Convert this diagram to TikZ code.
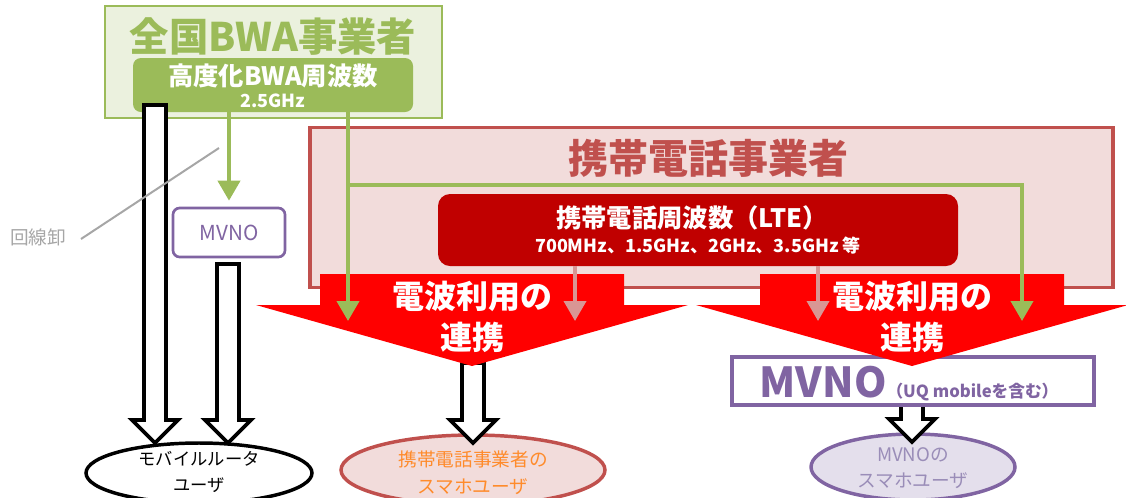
\documentclass[tikz,border=0pt]{standalone}
\usepackage{fontspec}
\setmainfont{Noto Sans CJK JP}
\usetikzlibrary{arrows.meta,shapes.geometric}
\definecolor{bwagreen}{HTML}{9BBB59}
\definecolor{bwafill}{HTML}{EBF1DE}
\definecolor{telred}{HTML}{C0504D}
\definecolor{telfill}{HTML}{F2DCDB}
\definecolor{ltered}{HTML}{C00000}
\definecolor{pinkarr}{HTML}{D99694}
\definecolor{mvnopurple}{HTML}{8064A2}
\definecolor{mvnofill}{HTML}{E4DFEC}
\definecolor{usrorange}{HTML}{FF8B2B}
\definecolor{usrpurple}{HTML}{9A8DB8}
\definecolor{arrred}{HTML}{FF0000}
\definecolor{linegray}{HTML}{A6A6A6}
\newcommand{\hollowarrow}[3]{%
  \draw[hollowline] (#1-11,#2) -- (#1+11,#2) -- (#1+11,#3-23) -- (#1+23,#3-23) -- (#1,#3) -- (#1-23,#3-23) -- (#1-11,#3-23) -- cycle;}
\newcommand{\redchevron}[1]{%
  \fill[arrred] (#1-152,274) -- (#1+152,274) -- (#1+152,305) -- (#1+216,305) -- (#1,366) -- (#1-216,305) -- (#1-152,305) -- cycle;}
\begin{document}
\begin{tikzpicture}[x=0.75pt,y=-0.75pt,
  hollowline/.style={draw=black,fill=white,line width=2.8pt,line join=miter},
  greenarr/.style={draw=bwagreen,line width=3pt,-{Triangle[width=16.5pt,length=15pt]}},
  pinkarrow/.style={draw=pinkarr,line width=2.8pt,-{Triangle[width=16.5pt,length=15pt]}},
  txt/.style={inner sep=0pt,align=center},
  userell/.style={ellipse,inner sep=0pt,line width=2.6pt}]
\useasboundingbox (0,0) rectangle (1126,497);
% BWA operator
\node[draw=bwagreen,fill=bwafill,line width=2pt,minimum width=252.75pt,minimum height=84pt,inner sep=0pt] (bwa) at (273.5,62) {};
\node[txt,text=bwagreen,font=\fontsize{29.5}{32}\selectfont\bfseries] (bwatitle) at (273,37) {全国BWA事業者};
\node[fill=bwagreen,rounded corners=6pt,minimum width=210pt,minimum height=40.5pt,inner sep=0pt] (bwain) at (273,85) {};
\node[txt,text=white,font=\fontsize{19}{21}\selectfont\bfseries] (bwafreq) at (273,76) {高度化BWA周波数};
\node[txt,text=white,font=\fontsize{13.5}{15}\selectfont\bfseries] (bwaghz) at (273,101) {2.5GHz};
% mobile operator
\node[draw=telred,fill=telfill,line width=2.4pt,minimum width=602.25pt,minimum height=120pt,inner sep=0pt] (tel) at (711.5,207.5) {};
\node[txt,text=telred,font=\fontsize{30}{32}\selectfont\bfseries] (teltitle) at (708,158) {携帯電話事業者};
\node[fill=ltered,rounded corners=9pt,minimum width=390pt,minimum height=54pt,inner sep=0pt] (lte) at (698,230) {};
\node[txt,text=white,font=\fontsize{19}{21}\selectfont\bfseries] (ltetitle) at (692,218) {携帯電話周波数（LTE）};
\node[txt,text=white,font=\fontsize{13.5}{15}\selectfont\bfseries] (ltefreq) at (698,246) {700MHz、1.5GHz、2GHz、3.5GHz 等};
% small MVNO
\node[draw=mvnopurple,fill=white,line width=2pt,rounded corners=5pt,minimum width=84pt,minimum height=36.75pt,inner sep=0pt,text=mvnopurple,font=\fontsize{15.5}{16}\selectfont] (mvnos) at (229,232.5) {MVNO};
% user ellipses
\node[userell,draw=black,fill=white,minimum width=169.5pt,minimum height=45pt] (router) at (199,473) {};
\node[txt,font=\fontsize{13}{19}\selectfont] (routertxt) at (199,472) {モバイルルータ\\ユーザ};
\node[userell,draw=telred,fill=telfill,minimum width=198pt,minimum height=52.5pt] (phone) at (473,470) {};
\node[txt,text=usrorange,font=\fontsize{14}{20}\selectfont] (phonetxt) at (473,473) {携帯電話事業者の\\スマホユーザ};
\node[userell,draw=mvnopurple,fill=mvnofill,minimum width=153pt,minimum height=49.5pt] (mvnouser) at (913,467) {};
\node[txt,text=usrpurple,font=\fontsize{14}{20}\selectfont] (mvnousertxt) at (913,468) {MVNOの\\スマホユーザ};
% hollow arrows
\hollowarrow{155}{105}{443}
\hollowarrow{228}{264}{443}
\hollowarrow{473}{363}{443}
\hollowarrow{912}{405}{442}
% big MVNO box
\node[draw=mvnopurple,fill=white,line width=2.4pt,minimum width=271.5pt,minimum height=36pt,inner sep=0pt] (mvnob) at (913,381) {};
\node[txt,text=mvnopurple,anchor=base] (mvnobtxt) at (909,397) {\fontsize{31}{33}\selectfont\bfseries MVNO\fontsize{12.5}{14}\selectfont （UQ mobileを含む）};
% red chevrons
\redchevron{472}
\redchevron{912}
\node[txt,text=white,font=\fontsize{24}{26}\selectfont\bfseries] (link1a) at (472,296) {電波利用の};
\node[txt,text=white,font=\fontsize{24}{26}\selectfont\bfseries] (link1b) at (472,337) {連携};
\node[txt,text=white,font=\fontsize{24}{26}\selectfont\bfseries] (link2a) at (912,296) {電波利用の};
\node[txt,text=white,font=\fontsize{24}{26}\selectfont\bfseries] (link2b) at (912,337) {連携};
% green connectors
\coordinate (g1) at (348,321);
\coordinate (gb) at (348,185);
\coordinate (g2) at (1022,321);
\draw[greenarr] (bwain.south -| mvnos.north) -- ([yshift=4.5pt]mvnos.north);
\draw[greenarr] (bwain.south -| g1) -- (g1);
\draw[greenarr] (gb) -| (g2);
% pink connectors
\coordinate (p1) at (575,321);
\coordinate (p2) at (818,321);
\draw[pinkarrow] (lte.south -| p1) -- (p1);
\draw[pinkarrow] (lte.south -| p2) -- (p2);
% wholesale label
\coordinate (gl1) at (219,148);
\node[txt,text=linegray,font=\fontsize{14}{16}\selectfont] (wholesale) at (38,237) {回線卸};
\draw[linegray,line width=1.5pt] (gl1) -- (81,239);
\end{tikzpicture}
\end{document}
